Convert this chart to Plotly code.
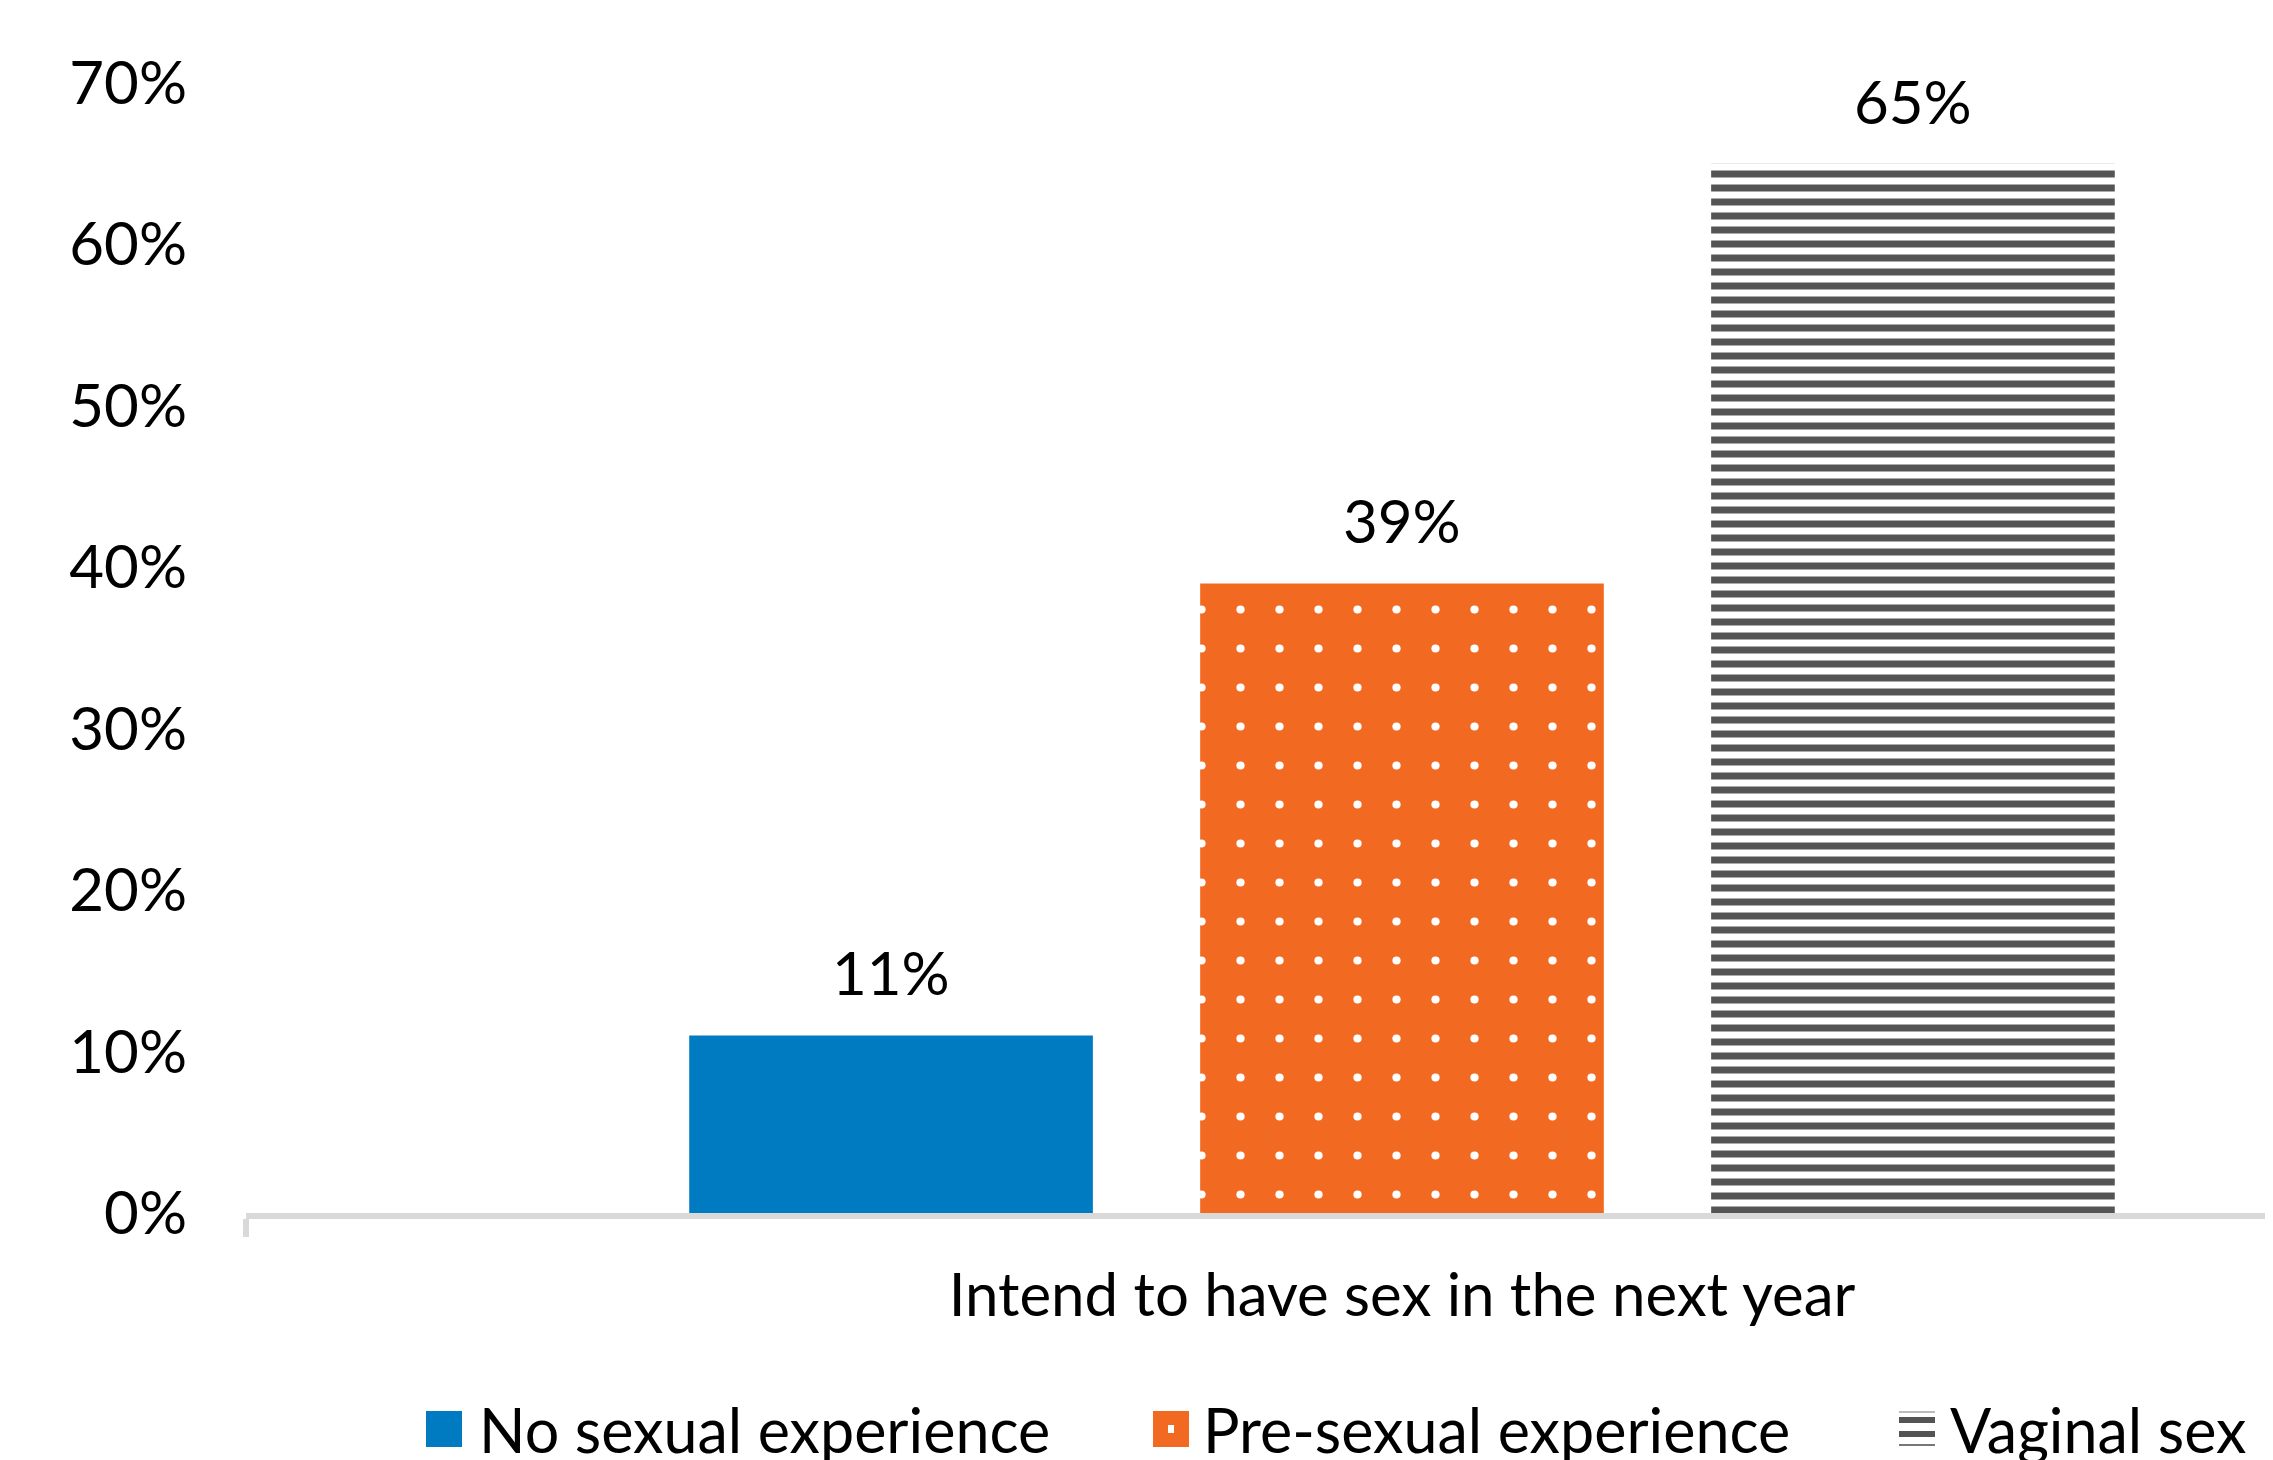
import plotly.graph_objects as go

# ---------------- data ----------------
categories = ["Intend to have sex in the next year"]
series_names = ["No sexual experience", "Pre-sexual experience", "Vaginal sex"]
values_no_experience = [11]
values_pre_sexual = [39]
values_vaginal = [65]
y_tick_values = [0, 10, 20, 30, 40, 50, 60, 70]
y_tick_labels = ["0%", "10%", "20%", "30%", "40%", "50%", "60%", "70%"]

# ---------------- style ----------------
OFF = 8                  # default page body margin
W, H = 2273 - OFF, 1460 - OFF
ML, MR, MT, MB = 246 - OFF, 0, 83 - OFF, 247
CAT_PX = 2312            # pixel width of one category slot
BARGAP = 0.337
BARGROUPGAP = 0.21
FONT = "Lato"
FS = 60
BLUE = "#007BC2"
ORANGE = "#F26922"
GRAY = "#545454"
AXIS = "#D9D9D9"

fig = go.Figure()
fig.add_bar(name=series_names[0], x=categories, y=values_no_experience,
            marker=dict(color=BLUE, line=dict(width=0)))
fig.add_bar(name=series_names[1], x=categories, y=values_pre_sexual,
            marker=dict(color=ORANGE, line=dict(width=0),
                        pattern=dict(shape=".", fillmode="overlay", fgcolor="white",
                                     fgopacity=1, size=39, solidity=0.035)))
fig.add_bar(name=series_names[2], x=categories, y=values_vaginal,
            marker=dict(color="white", line=dict(width=0),
                        pattern=dict(shape="-", fillmode="overlay", fgcolor=GRAY,
                                     fgopacity=1, size=14, solidity=0.5)))

plot_w = W - ML - MR
plot_h = H - MT - MB
fig.update_layout(
    width=W, height=H,
    margin=dict(l=ML, r=MR, t=MT, b=MB, pad=0),
    paper_bgcolor="white", plot_bgcolor="white",
    barmode="group", bargap=BARGAP, bargroupgap=BARGROUPGAP,
    showlegend=False,
    font=dict(family=FONT, size=FS, color="black"),
)
fig.update_xaxes(type="category", range=[-0.5, -0.5 + plot_w / CAT_PX],
                 showline=True, linecolor=AXIS, linewidth=6,
                 ticks="outside", tickson="boundaries", ticklen=18, tickwidth=6,
                 tickcolor=AXIS, showgrid=False, zeroline=False,
                 ticklabelstandoff=25,
                 tickfont=dict(family=FONT, size=FS, color="black"))
fig.update_yaxes(range=[0, 70], tickvals=y_tick_values, ticktext=y_tick_labels,
                 showgrid=False, showline=False, zeroline=False, ticks="",
                 ticklabelstandoff=58,
                 tickfont=dict(family=FONT, size=FS, color="black"))

# data labels, placed on the category scale at each bar's slot
slot = (1 - BARGAP) / 3
for i, vals in enumerate([values_no_experience, values_pre_sexual, values_vaginal]):
    for j, v in enumerate(vals):
        fig.add_annotation(x=j + (i - 1) * slot, y=v, xref="x", yref="y",
                           text=f"{v}%", showarrow=False, yanchor="bottom",
                           yshift=25, font=dict(family=FONT, size=FS, color="black"))

# custom legend (swatches + labels) below the axis; coordinates in page pixels
def px_x(p):
    return (p - OFF - ML) / plot_w

def px_y(p):
    return (H - MB - (p - OFF)) / plot_h

leg_text_x = [477, 1201, 1948]
leg_sw_x = [426, 1153, 1899]
LEG_FS = 61
SW = 36
leg_cy = 1429
for k, name in enumerate(series_names):
    fig.add_annotation(x=px_x(leg_text_x[k]), y=px_y(leg_cy), xref="paper", yref="paper",
                       text=name, showarrow=False, xanchor="left", yanchor="middle",
                       font=dict(family=FONT, size=LEG_FS, color="black"))
# blue swatch
fig.add_shape(type="rect", xref="paper", yref="paper",
              x0=px_x(leg_sw_x[0]), x1=px_x(leg_sw_x[0] + SW),
              y0=px_y(leg_cy - SW / 2), y1=px_y(leg_cy + SW / 2),
              fillcolor=BLUE, line=dict(width=0))
# orange swatch with white dot
fig.add_shape(type="rect", xref="paper", yref="paper",
              x0=px_x(leg_sw_x[1]), x1=px_x(leg_sw_x[1] + SW),
              y0=px_y(leg_cy - SW / 2), y1=px_y(leg_cy + SW / 2),
              fillcolor=ORANGE, line=dict(width=0))
cx = leg_sw_x[1] + SW / 2
fig.add_shape(type="rect", xref="paper", yref="paper",
              x0=px_x(cx - 3), x1=px_x(cx + 3),
              y0=px_y(leg_cy - 4), y1=px_y(leg_cy + 4),
              fillcolor="white", line=dict(width=0))
# gray striped swatch
for yy, lw, col in [(1412, 2, "#BBBBBB"), (1420, 6, GRAY), (1434, 6, GRAY), (1445, 2, "#777777")]:
    fig.add_shape(type="line", xref="paper", yref="paper",
                  x0=px_x(leg_sw_x[2]), x1=px_x(leg_sw_x[2] + SW),
                  y0=px_y(yy), y1=px_y(yy), line=dict(color=col, width=lw))

fig.write_html("out.html")
